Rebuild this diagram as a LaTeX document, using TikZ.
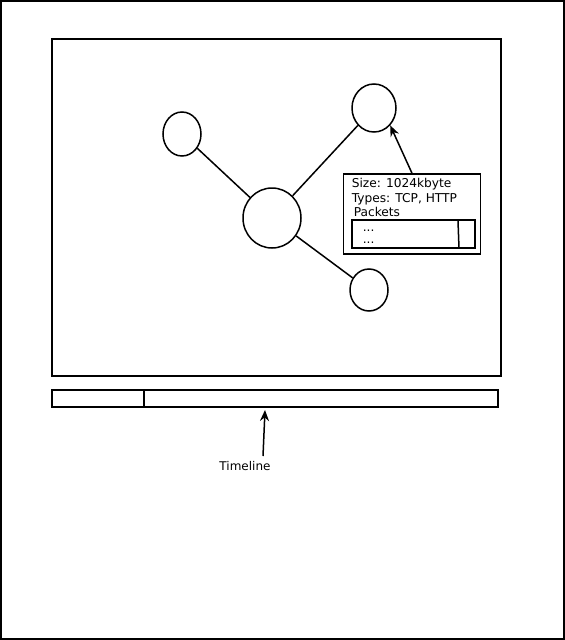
\documentclass[tikz,border=0pt]{standalone}
\usepackage{fontspec}
\setmainfont{DejaVu Sans}
\usetikzlibrary{shapes.geometric,arrows.meta}

\begin{document}
\begin{tikzpicture}[x=1pt,y=-1pt,line width=1.5pt,
    peer/.style={draw,ellipse,inner sep=0pt},
    infotext/.style={anchor=base west,inner sep=0pt,font=\fontsize{12.2}{14}\selectfont},
    pointer/.style={-{Stealth[length=11pt,width=9pt]}}]
  \useasboundingbox (0,0) rectangle (565,640);

  % window and graph canvas
  \draw (1,1) rectangle (564,639);
  \draw (52,39) rectangle (501,376);

  \node [peer,minimum width=38pt,minimum height=44pt] (left) at (182,134) {};
  \node [peer,minimum width=58pt,minimum height=60pt] (hub) at (272,218) {};
  \node [peer,minimum width=44pt,minimum height=48pt] (upper) at (374,108) {};
  \node [peer,minimum width=38pt,minimum height=42pt] (lower) at (369,290) {};

  \draw (left) -- (hub.137);
  \draw (hub) -- (upper);
  \draw (hub) -- (lower);

  % packet info box
  \node [draw,inner sep=0pt,minimum width=137pt,minimum height=80pt] (info) at (412,214) {};
  \node [infotext] (size) at (351,187) {Size: 1024kbyte};
  \node [infotext] (types) at (351,202) {Types: TCP, HTTP};
  \node [infotext] (packets) at (353,216) {Packets};
  \node [draw,inner sep=0pt,minimum width=123pt,minimum height=28pt] (list) at (413.5,234) {};
  \draw (458,221) -- (459,248);
  \node [infotext] (first) at (362,231) {...};
  \node [infotext] (second) at (362,243) {...};

  \draw [pointer] (info.north) -- (upper.-47);

  % timeline
  \node [draw,inner sep=0pt,minimum width=446pt,minimum height=17pt] (bar) at (275,398.5) {};
  \draw (144,390) -- (144,407);
  \node [font=\fontsize{12}{14}\selectfont,inner sep=0pt] (timeline) at (245,466) {Timeline};
  \coordinate (tail) at (263,456);
  \coordinate (tip) at (265,410);
  \draw [pointer] (tail) -- (tip);
\end{tikzpicture}
\end{document}
